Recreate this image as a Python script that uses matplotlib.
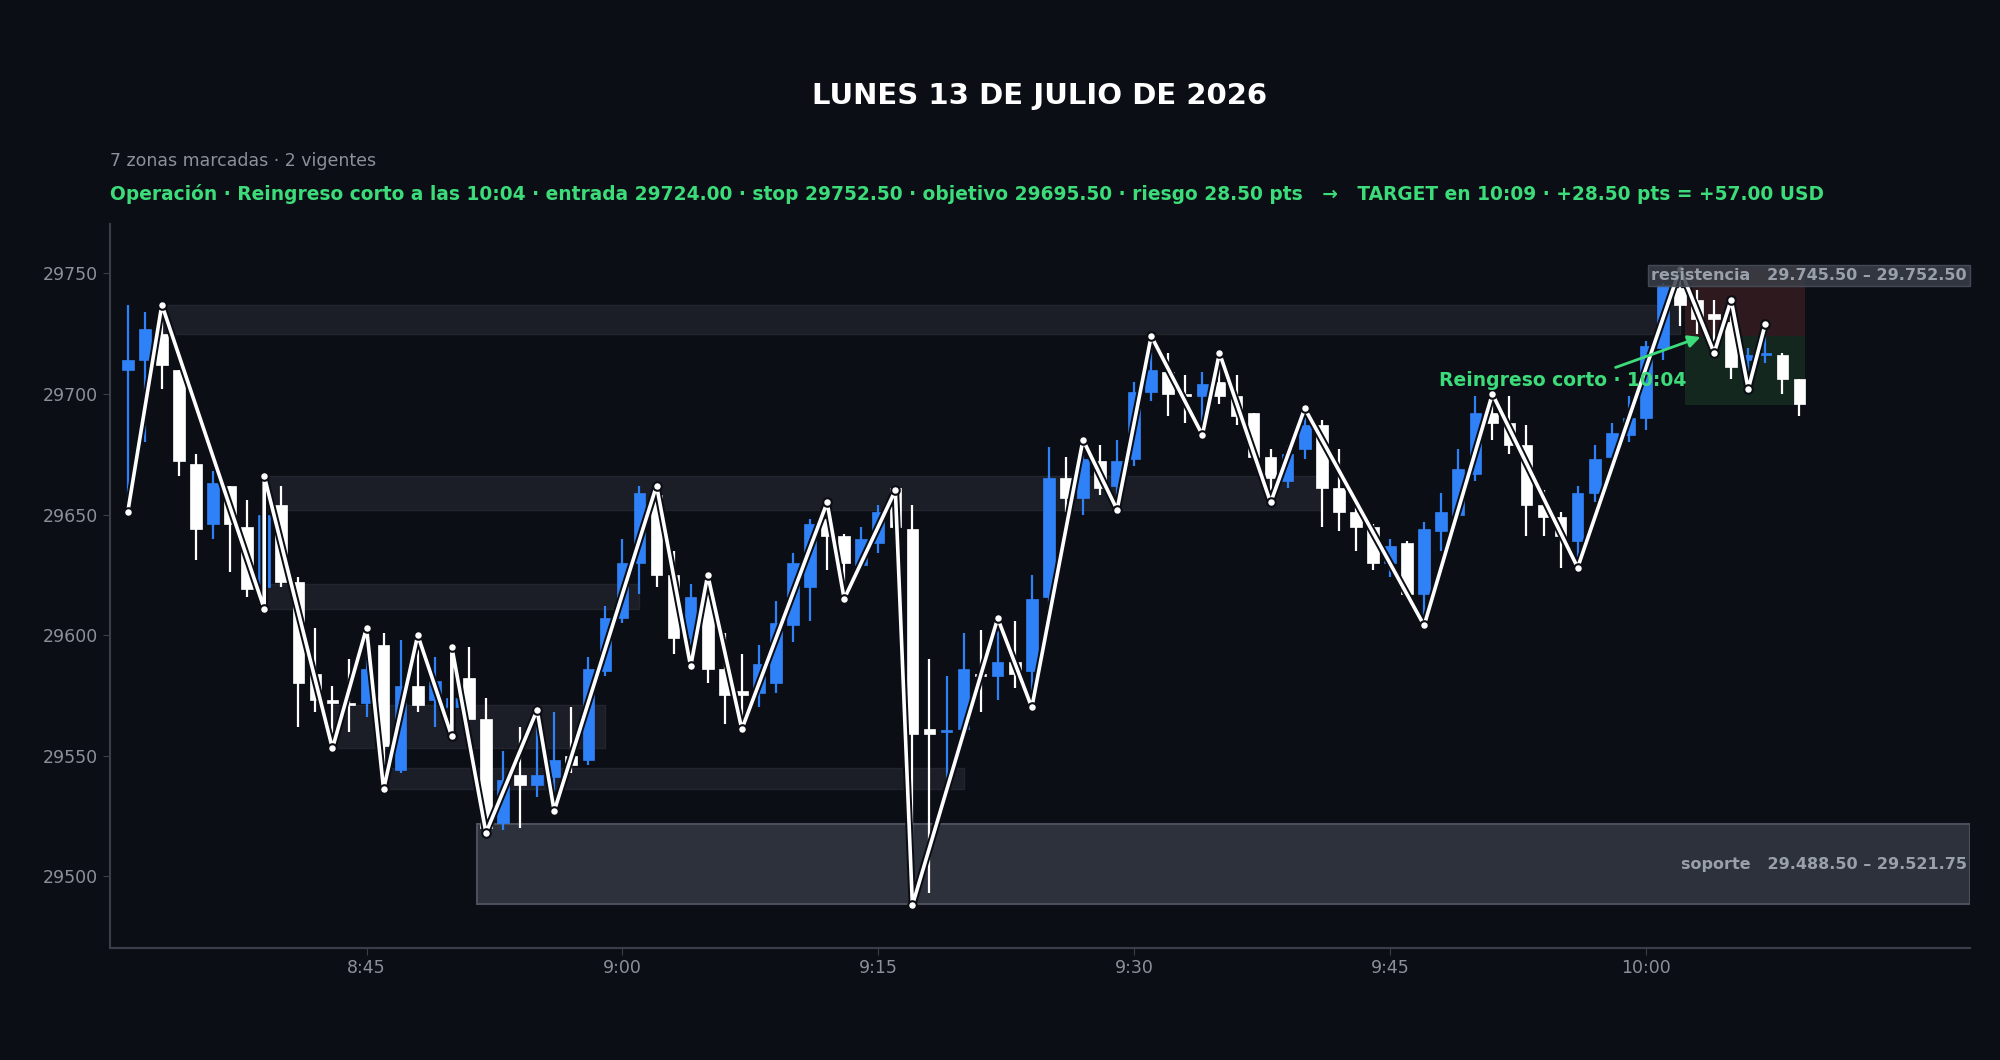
import matplotlib
matplotlib.use("Agg")
import matplotlib.pyplot as plt
import matplotlib.patheffects as pe
from matplotlib.patches import Rectangle

# ---- data ----
times = ["8:31","8:32","8:33","8:34","8:35","8:36","8:37","8:38","8:39","8:40",
         "8:41","8:42","8:43","8:44","8:45","8:46","8:47","8:48","8:49","8:50",
         "8:51","8:52","8:53","8:54","8:55","8:56","8:57","8:58","8:59","9:00",
         "9:01","9:02","9:03","9:04","9:05","9:06","9:07","9:08","9:09","9:10",
         "9:11","9:12","9:13","9:14","9:15","9:16","9:17","9:18","9:19","9:20",
         "9:21","9:22","9:23","9:24","9:25","9:26","9:27","9:28","9:29","9:30",
         "9:31","9:32","9:33","9:34","9:35","9:36","9:37","9:38","9:39","9:40",
         "9:41","9:42","9:43","9:44","9:45","9:46","9:47","9:48","9:49","9:50",
         "9:51","9:52","9:53","9:54","9:55","9:56","9:57","9:58","9:59","10:00",
         "10:01","10:02","10:03","10:04","10:05","10:06","10:07","10:08","10:09"]
opens  = [29710,29714,29725,29710,29671,29646,29662,29645,29620,29654,
          29622,29584,29573,29572,29572,29596,29544,29579,29573,29570,
          29582,29565,29522,29542,29538,29541,29550,29548,29585,29607,
          29630,29658,29625,29599,29618,29586,29577,29576,29580,29604,
          29620,29648,29641,29629,29638,29661,29644,29561,29560,29561,
          29584,29583,29589,29585,29616,29665,29657,29672,29662,29673,
          29701,29709,29700,29699,29705,29699,29692,29674,29664,29677,
          29687,29661,29651,29645,29630,29638,29617,29643,29650,29667,
          29692,29688,29679,29654,29649,29639,29659,29674,29683,29690,
          29719,29744,29739,29733,29730,29714,29716,29716,29706]
highs  = [29737,29734,29737,29710,29675,29668,29662,29656,29666,29662,
          29624,29603,29579,29590,29603,29601,29598,29600,29591,29595,
          29595,29574,29552,29562,29569,29568,29570,29591,29612,29640,
          29662,29662,29635,29621,29625,29601,29592,29596,29614,29634,
          29648,29655,29642,29645,29654,29660,29654,29590,29583,29601,
          29602,29607,29606,29625,29678,29674,29681,29679,29681,29705,
          29724,29717,29708,29709,29717,29708,29692,29677,29679,29694,
          29689,29677,29653,29646,29640,29639,29647,29659,29677,29699,
          29700,29699,29687,29660,29651,29662,29679,29688,29699,29722,
          29746,29752,29743,29739,29739,29719,29729,29717,29706]
lows   = [29651,29680,29702,29666,29631,29640,29626,29616,29611,29620,
          29562,29568,29553,29560,29566,29536,29543,29568,29562,29558,
          29565,29518,29519,29520,29533,29527,29543,29546,29583,29605,
          29617,29620,29592,29587,29580,29563,29561,29570,29576,29597,
          29606,29627,29615,29627,29634,29642,29488,29493,29540,29562,
          29568,29573,29578,29570,29613,29651,29650,29658,29652,29670,
          29697,29691,29688,29683,29696,29687,29672,29655,29661,29673,
          29645,29643,29635,29627,29624,29615,29604,29635,29648,29664,
          29681,29675,29641,29641,29628,29628,29655,29669,29680,29685,
          29714,29728,29725,29717,29706,29702,29713,29700,29691]
closes = [29714,29727,29712,29672,29644,29663,29646,29619,29650,29622,
          29580,29573,29572,29571,29586,29554,29579,29571,29581,29574,
          29565,29520,29540,29538,29542,29548,29546,29586,29607,29630,
          29659,29625,29599,29616,29586,29575,29575,29588,29605,29630,
          29646,29641,29630,29640,29651,29645,29559,29559,29560,29586,
          29583,29589,29584,29615,29665,29657,29673,29661,29672,29701,
          29710,29700,29699,29704,29699,29691,29674,29665,29675,29687,
          29661,29651,29645,29630,29637,29617,29644,29651,29669,29692,
          29688,29679,29654,29649,29641,29659,29673,29684,29690,29720,
          29745,29737,29731,29731,29711,29716,29716,29706,29696]

pivot_idx   = [0,2,8,8,12,14,15,17,19,19,21,24,25,31,33,34,36,41,42,45,46,51,53,56,58,
               60,63,64,67,69,76,80,85,91,93,94,95,96]
pivot_price = [29651,29737,29611,29666,29553,29603,29536,29600,29558,29595,29518,29569,29527,
               29662,29587,29625,29561,29655,29615,29660,29488,29607,29570,29681,29652,
               29724,29683,29717,29655,29694,29604,29700,29628,29752,29717,29739,29702,29729]

zone_start = [2, 8, 8, 12, 15]
zone_end   = [91, 70, 30, 28, 49]
zone_low   = [29725, 29652, 29611, 29553, 29536]
zone_high  = [29737, 29666, 29621, 29571, 29545]
sup_start, sup_low, sup_high = 20.5, 29488.50, 29521.75
res_low, res_high = 29745.50, 29752.50
entry, stop, target = 29724.00, 29752.50, 29695.50
entry_idx, trade_end = 91.3, 98.3

tick_pos = [14, 29, 44, 59, 74, 89]
tick_lab = ["8:45", "9:00", "9:15", "9:30", "9:45", "10:00"]

# ---- style ----
BG = "#0b0e15"
BLUE = "#2f81f7"
WHITE = "#ffffff"
GREY = "#8b909a"
GREEN = "#3ddc7a"

fig = plt.figure(figsize=(20, 10.6), dpi=100, facecolor=BG)
ax = fig.add_axes([0.055, 0.106, 0.93, 0.683], facecolor=BG)
xmin, xmax = -1.04, 108.0
ax.set_xlim(xmin, xmax)
ax.set_ylim(29470.4, 29770.6)

for s, e, lo, hi in zip(zone_start, zone_end, zone_low, zone_high):
    ax.add_patch(Rectangle((s, lo), e - s, hi - lo, facecolor="#1b1e26", edgecolor="#22252d", lw=1, zorder=1))
ax.add_patch(Rectangle((sup_start, sup_low), xmax - sup_start, sup_high - sup_low,
                       facecolor="#2d313c", edgecolor="#4b505b", lw=1.5, zorder=1))
ax.add_patch(Rectangle((entry_idx, entry), trade_end - entry_idx, stop - entry,
                       facecolor="#2e1a1e", edgecolor="none", zorder=1))
ax.add_patch(Rectangle((entry_idx, target), trade_end - entry_idx, entry - target,
                       facecolor="#13271f", edgecolor="none", zorder=1))

w = 0.68
for i, (o, h, l, c) in enumerate(zip(opens, highs, lows, closes)):
    col = BLUE if c >= o else WHITE
    ax.plot([i, i], [l, h], color=col, lw=1.6, zorder=3, solid_capstyle="butt")
    lo, hi = min(o, c), max(o, c)
    ax.add_patch(Rectangle((i - w / 2, lo), w, max(hi - lo, 0.8), facecolor=col, edgecolor=col, lw=0.5, zorder=3))

ax.plot(pivot_idx, pivot_price, color=WHITE, lw=2.6, zorder=5,
        path_effects=[pe.Stroke(linewidth=5.5, foreground="#0b0e15"), pe.Normal()])
ax.scatter(pivot_idx, pivot_price, s=38, color=WHITE, edgecolors="#0b0e15", linewidths=1.5, zorder=6)

ax.text(xmax - 0.2, (res_low + res_high) / 2, "resistencia   29.745.50 – 29.752.50",
        ha="right", va="center", color="#9aa0aa", fontsize=11.5, fontweight="bold", zorder=7,
        bbox=dict(boxstyle="square,pad=0.2", facecolor="#3a3e48", edgecolor="#4b505b", alpha=0.85))
ax.text(xmax - 0.2, 29505, "soporte   29.488.50 – 29.521.75", ha="right", va="center",
        color="#9aa0aa", fontsize=11.5, fontweight="bold", zorder=7)

ax.annotate("Reingreso corto · 10:04", xy=(92.2, 29723.6), xytext=(76.9, 29705.5),
            color=GREEN, fontsize=13.5, fontweight="bold", va="center", ha="left", zorder=8,
            arrowprops=dict(arrowstyle="-|>", color=GREEN, lw=2, mutation_scale=18, shrinkA=2, shrinkB=0,
                            relpos=(0.67, 1.0)))

ax.set_xticks(tick_pos)
ax.set_xticklabels(tick_lab)
ax.set_yticks([29500, 29550, 29600, 29650, 29700, 29750])
ax.tick_params(colors=GREY, labelsize=12.5, length=5, color="#3a3e48")
for side in ["top", "right"]:
    ax.spines[side].set_visible(False)
for side in ["left", "bottom"]:
    ax.spines[side].set_color("#3a3e48")
    ax.spines[side].set_linewidth(1.5)

fig.text(0.52, 0.909, "LUNES 13 DE JULIO DE 2026", ha="center", va="center", color=WHITE,
         fontsize=21, fontweight="bold")
fig.text(0.055, 0.848, "7 zonas marcadas · 2 vigentes", ha="left", va="center", color=GREY, fontsize=12.5)
fig.text(0.055, 0.817, "Operación · Reingreso corto a las 10:04 · entrada 29724.00 · stop 29752.50 · objetivo 29695.50 · riesgo 28.50 pts   →   TARGET en 10:09 · +28.50 pts = +57.00 USD",
         ha="left", va="center", color=GREEN, fontsize=13.4, fontweight="bold")

fig.savefig("out.png", dpi=100, facecolor=BG)
